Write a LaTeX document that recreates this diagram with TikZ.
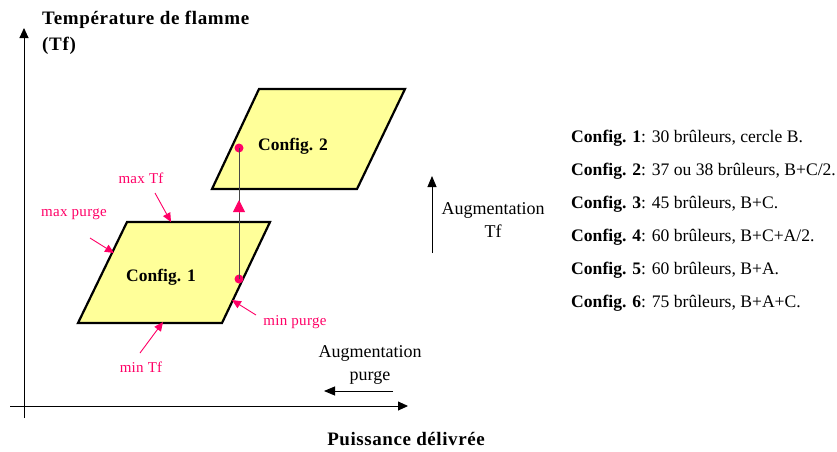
\documentclass[tikz,border=0pt]{standalone}
\usepackage{fontspec}
\setmainfont{Liberation Serif}
\usetikzlibrary{arrows.meta}
\definecolor{pinkc}{RGB}{255,0,102}
\definecolor{boxfill}{RGB}{255,255,153}
\definecolor{linegray}{RGB}{70,70,70}
\begin{document}
\begin{tikzpicture}[x=1pt,y=-1pt,
  axis/.style={line width=0.9pt,-{Triangle[length=10pt,width=9pt]}},
  blackarrow/.style={line width=0.9pt,-{Triangle[length=11pt,width=9pt]}},
  cfgbox/.style={draw, line width=2.2pt, fill=boxfill, line join=miter},
  pinkarrow/.style={pinkc, line width=0.9pt, -{Triangle[length=9pt,width=8pt]}},
  pinklabel/.style={text=pinkc, inner sep=0, font=\fontsize{15}{16}\selectfont\addfontfeature{LetterSpace=2}},
  boxtext/.style={inner sep=0, font=\fontsize{17.5}{20}\selectfont\bfseries},
  leg/.style={anchor=west, inner sep=0, font=\fontsize{17.6}{20}\selectfont},
  plain/.style={inner sep=0, align=center, font=\fontsize{18}{22.5}\selectfont},
  dot/.style={circle, fill=pinkc, inner sep=0, minimum size=9pt},
  titletext/.style={inner sep=0, font=\fontsize{19}{26}\selectfont\bfseries\addfontfeature{LetterSpace=3.5}},
  xtitletext/.style={inner sep=0, font=\fontsize{19}{22}\selectfont\bfseries\addfontfeature{LetterSpace=3}}
]
\useasboundingbox (0,0) rectangle (837,451);

% axes
\coordinate (yb) at (24,418);
\coordinate (yt) at (24,28);
\coordinate (xl) at (10,406);
\coordinate (xr) at (408,406);
\draw[axis] (yb) -- (yt);
\draw[axis] (xl) -- (xr);

\node[titletext, anchor=west, align=left] (ytitle) at (42,33) {Température de flamme\\(Tf)};
\node[xtitletext] (xtitle) at (406,439) {Puissance délivrée};

% configuration boxes
\draw[cfgbox] (127,222) -- (270,222) -- (222,323) -- (78,323) -- cycle;
\node[boxtext] (c1) at (161,277) {Config. 1};
\draw[cfgbox] (259,89) -- (405,89) -- (357,189) -- (212,189) -- cycle;
\node[boxtext] (c2) at (293,146) {Config. 2};

% transition
\node[dot] (d1) at (239,279) {};
\node[dot] (d2) at (239,148) {};
\draw[linegray, line width=0.9pt] (d1.center) -- (d2.center);
\coordinate (ab) at (239,213);
\coordinate (at) at (239,200);
\draw[pinkc, line width=0.9pt, -{Triangle[length=12pt,width=12pt]}] (ab) -- (at);

% pink annotations
\node[pinklabel] (maxtf) at (141,178) {max Tf};
\coordinate (maxtfs) at (155,193);
\coordinate (maxtfe) at (171,222);
\draw[pinkarrow] (maxtfs) -- (maxtfe);

\node[pinklabel] (maxpurge) at (74,214) {max purge};
\coordinate (maxps) at (90,238);
\coordinate (maxpe) at (114,253);
\draw[pinkarrow] (maxps) -- (maxpe);

\node[pinklabel] (minpurge) at (295,322) {min purge};
\coordinate (minps) at (256,315);
\coordinate (minpe) at (232,300);
\draw[pinkarrow] (minps) -- (minpe);

\node[pinklabel] (mintf) at (141,367) {min Tf};
\coordinate (mintfs) at (140,353);
\coordinate (mintfe) at (163,322);
\draw[pinkarrow] (mintfs) -- (mintfe);

% augmentation arrows
\node[plain] (augpurge) at (370,365) {Augmentation\\purge};
\coordinate (aps) at (393,391);
\coordinate (ape) at (324,391);
\draw[blackarrow] (aps) -- (ape);

\node[plain] (augtf) at (493,220) {Augmentation\\Tf};
\coordinate (ats) at (432,253);
\coordinate (ate) at (432,176);
\draw[blackarrow] (ats) -- (ate);

% legend
\node[leg] (l1) at (571,138) {\textbf{Config. 1}: 30 brûleurs, cercle B.};
\node[leg] (l2) at (571,171) {\textbf{Config. 2}: 37 ou 38 brûleurs, B+C/2.};
\node[leg] (l3) at (571,204) {\textbf{Config. 3}: 45 brûleurs, B+C.};
\node[leg] (l4) at (571,237) {\textbf{Config. 4}: 60 brûleurs, B+C+A/2.};
\node[leg] (l5) at (571,270) {\textbf{Config. 5}: 60 brûleurs, B+A.};
\node[leg] (l6) at (571,303) {\textbf{Config. 6}: 75 brûleurs, B+A+C.};
\end{tikzpicture}
\end{document}
